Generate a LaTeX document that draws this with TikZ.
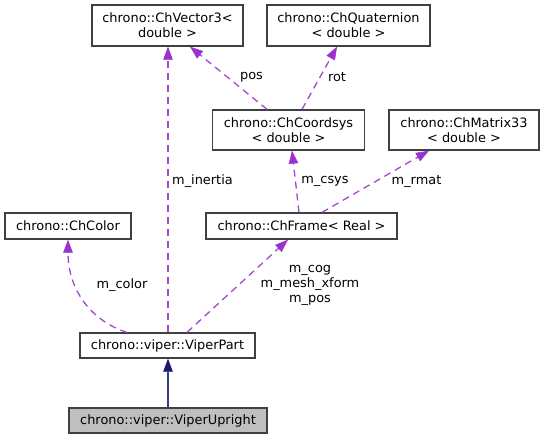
\documentclass[tikz,border=0pt]{standalone}
\usepackage{fontspec}
\setmainfont{DejaVu Sans}
\usetikzlibrary{arrows.meta}
\definecolor{usecol}{HTML}{9A32CD}
\definecolor{inhcol}{HTML}{191970}
\definecolor{boxcol}{HTML}{404040}
\definecolor{curcol}{HTML}{BFBFBF}
\tikzset{
  cls/.style={draw=boxcol, line width=1.3pt, fill=white, inner sep=0pt, align=center,
    font=\fontsize{12.9}{15}\selectfont},
  usage/.style={draw=usecol!90!white, line width=1.3pt, dash pattern=on 7pt off 5pt,
    -{Triangle[length=13pt,width=9.5pt,color=usecol,fill=usecol,line width=0.5pt]}},
  inherit/.style={draw=inhcol!85!white, line width=1.5pt,
    -{Triangle[length=13pt,width=9.5pt,color=inhcol,fill=inhcol,line width=0.5pt]}},
  lbl/.style={inner sep=0pt, align=center, font=\fontsize{12.9}{15}\selectfont}
}
\begin{document}
\begin{tikzpicture}[x=1pt,y=-1pt]
\useasboundingbox (0,0) rectangle (544,440);
\node[cls, minimum width=151pt, minimum height=41pt] (vec) at (167.5,25.5) {chrono::ChVector3<\\double >};
\node[cls, minimum width=163pt, minimum height=41pt] (quat) at (348.5,25.5) {chrono::ChQuaternion\\< double >};
\node[cls, minimum width=152pt, minimum height=40pt] (csys) at (288.5,130) {chrono::ChCoordsys\\< double >};
\node[cls, minimum width=150pt, minimum height=40pt] (mat) at (464,130) {chrono::ChMatrix33\\< double >};
\node[cls, minimum width=126pt, minimum height=26pt] (color) at (68,226) {chrono::ChColor};
\node[cls, minimum width=191pt, minimum height=26pt] (frame) at (301.5,226) {chrono::ChFrame< Real >};
\node[cls, minimum width=175pt, minimum height=25pt] (vp) at (167.5,345.5) {chrono::viper::ViperPart};
\node[cls, fill=curcol, minimum width=198pt, minimum height=25pt] (vu) at (168,420.5) {chrono::viper::ViperUpright};

\draw[inherit] ([xshift=0.5pt]vu.north -| vp.south) -- ([xshift=0.5pt]vp.south);
\draw[usage] ([xshift=0.5pt]vp.north) -- ([xshift=0.5pt]vec.south);
\draw[usage] ([xshift=-40.5pt]vp.north) .. controls +(-35,-11) and +(0,51) .. (color.south);
\draw[usage] ([xshift=19.5pt]vp.north) -- ([xshift=-13.5pt]frame.south);
\draw[usage] ([xshift=-21.5pt]csys.north) -- ([xshift=22.5pt]vec.south);
\draw[usage] ([xshift=13.5pt]csys.north) -- ([xshift=-11.5pt]quat.south);
\draw[usage] ([xshift=-2.5pt]frame.north) -- ([xshift=3.5pt]csys.south);
\draw[usage] ([xshift=20.5pt]frame.north) -- ([xshift=-35pt]mat.south);

\node[lbl, anchor=west] (l1) at (172,181) {m\_inertia};
\node[lbl] (l2) at (251.5,77) {pos};
\node[lbl] (l3) at (337,77) {rot};
\node[lbl] (l4) at (325,181) {m\_csys};
\node[lbl] (l5) at (416.5,181) {m\_rmat};
\node[lbl] (l6) at (122,285) {m\_color};
\node[lbl] (l7) at (310,285.5) {m\_cog\\m\_mesh\_xform\\m\_pos};
\end{tikzpicture}
\end{document}
